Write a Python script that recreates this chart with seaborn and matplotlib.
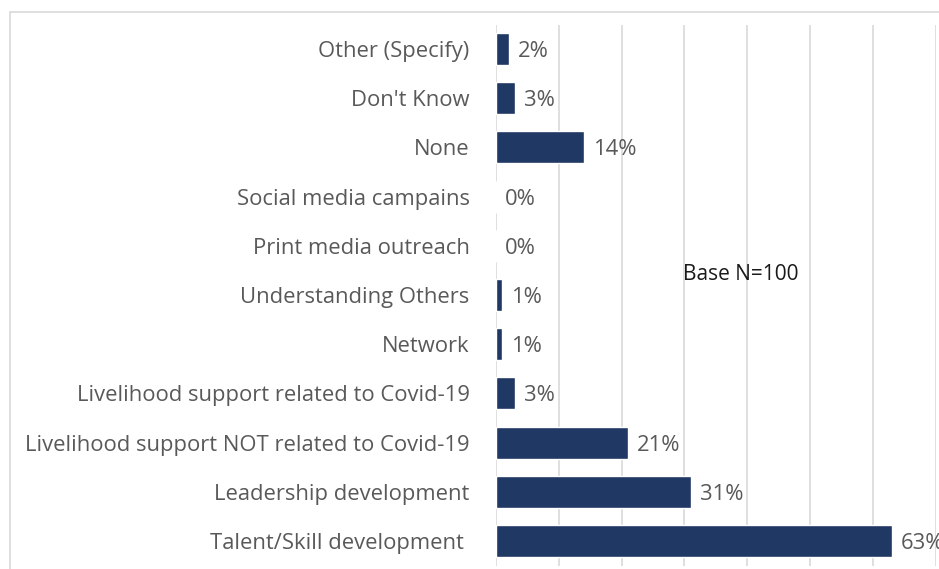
import matplotlib
matplotlib.use("Agg")
import matplotlib.pyplot as plt
import seaborn as sns
import pandas as pd
from matplotlib.patches import Rectangle

categories = [
    "Other (Specify)",
    "Don't Know",
    "None",
    "Social media campains",
    "Print media outreach",
    "Understanding Others",
    "Network",
    "Livelihood support related to Covid-19",
    "Livelihood support NOT related to Covid-19",
    "Leadership development",
    "Talent/Skill development ",
]
values = [2, 3, 14, 0, 0, 1, 1, 3, 21, 31, 63]
x_ticks = [0, 10, 20, 30, 40, 50, 60, 70]
note = "Base N=100"

sns.set_theme(style="white")
plt.rcParams["font.family"] = ["Open Sans", "DejaVu Sans"]

df = pd.DataFrame({"category": categories, "value": values})

W, H = 939, 569
fig = plt.figure(figsize=(W / 100, H / 100), dpi=100)
ax = fig.add_axes([496 / W, 1 - 565.6 / H, (935.6 - 496) / W, (565.6 - 24.5) / H])

# outer light frame
fig.patches.append(Rectangle((10 / W, -0.1), 1.2, 1 - 12 / H + 0.1,
                             transform=fig.transFigure, fill=False,
                             edgecolor="#D9D9D9", linewidth=1.2, zorder=0))

sns.barplot(data=df, x="value", y="category", orient="h", color="#203864",
            width=0.65, saturation=1, ax=ax, zorder=3)

ax.set_xlim(0, 70)
ax.set_xticks(x_ticks)
ax.set_xticklabels([])
ax.grid(axis="x", color="#D9D9D9", linewidth=1.2, zorder=0)
ax.grid(axis="y", visible=False)
for s in ax.spines.values():
    s.set_visible(False)
ax.tick_params(axis="both", length=0)
ax.tick_params(axis="y", pad=19, labelsize=15.8, labelcolor="#595959")
for lab in ax.get_yticklabels():
    lab.set_verticalalignment("center_baseline")
ax.set_xlabel("")
ax.set_ylabel("")

for i, v in enumerate(values):
    ax.annotate(f"{v}%", (v, i), xytext=(6.5, 0), textcoords="offset points",
                va="center_baseline", ha="left", fontsize=15.8, color="#595959",
                annotation_clip=False)

ax.text(741 / W, 1 - 272 / H, note, transform=fig.transFigure,
        ha="center", va="center_baseline", fontsize=15, color="#1a1a1a")

fig.savefig("out.png", dpi=100)
